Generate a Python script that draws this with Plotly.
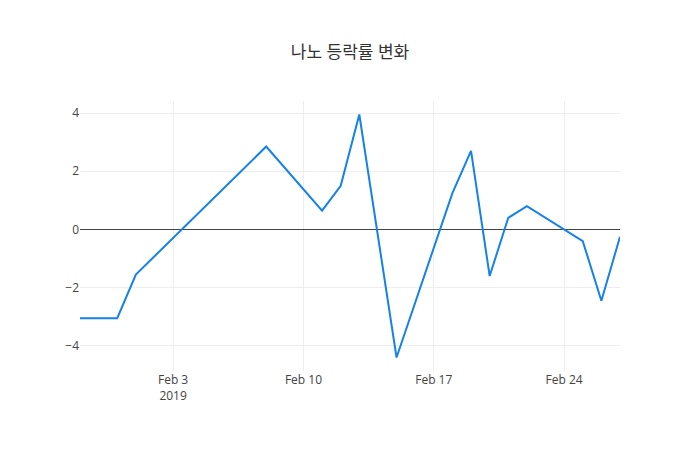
import plotly.graph_objects as go

dates = ["2019-01-29", "2019-01-31", "2019-02-01", "2019-02-08", "2019-02-11",
         "2019-02-12", "2019-02-13", "2019-02-15", "2019-02-18", "2019-02-19",
         "2019-02-20", "2019-02-21", "2019-02-22", "2019-02-25", "2019-02-26",
         "2019-02-27"]
change = [-3.05, -3.05, -1.55, 2.85, 0.65, 1.5, 3.95, -4.4, 1.25, 2.7,
          -1.6, 0.4, 0.8, -0.4, -2.45, -0.25]

fig = go.Figure(go.Scatter(x=dates, y=change, mode="lines",
                           line=dict(color="#1482e8", width=2)))
fig.update_layout(
    title=dict(text="나노 등락률 변화", x=0.5, xref="paper", y=0.915,
               font=dict(size=17, color="#333")),
    width=700, height=450,
    template="plotly_white",
    font=dict(family="Open Sans, Noto Sans CJK KR", size=12, color="#444"),
    margin=dict(l=72, r=88, t=93, b=87),
    showlegend=False,
)
fig.update_xaxes(showgrid=True, gridcolor="#eee", dtick=7 * 86400000,
                 tick0="2019-02-03")
fig.update_yaxes(showgrid=True, gridcolor="#eee", zeroline=True,
                 zerolinecolor="#444", zerolinewidth=1, dtick=2)
fig.write_html("out.html")
